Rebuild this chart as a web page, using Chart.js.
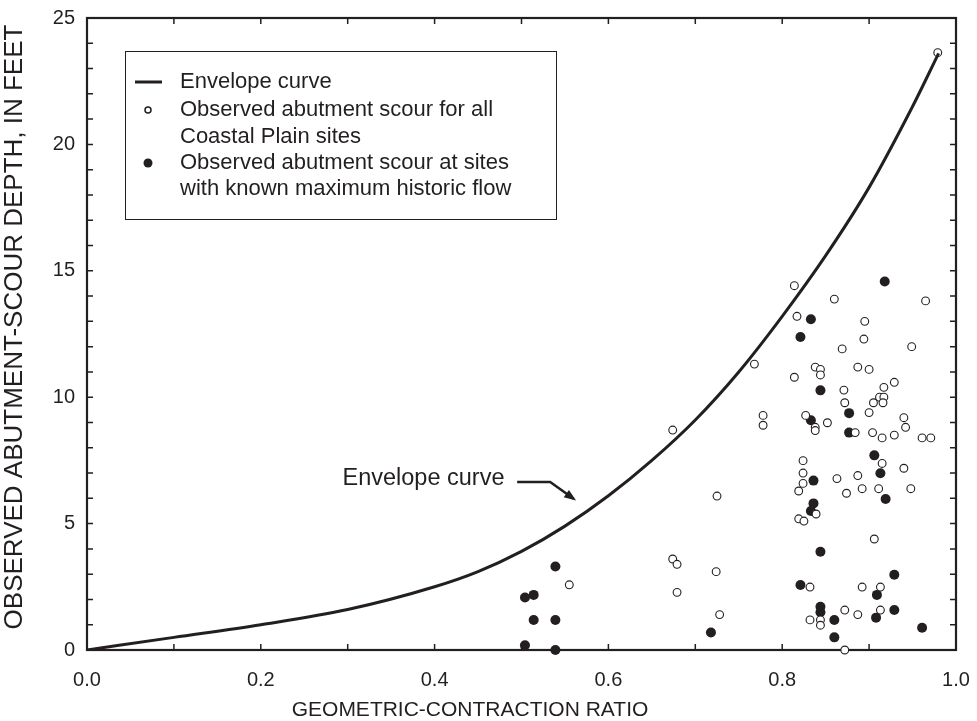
<!DOCTYPE html>
<html>
<head>
<meta charset="utf-8">
<script src="https://cdn.jsdelivr.net/npm/chart.js@4/dist/chart.umd.min.js"></script>
<style>
  html, body { margin: 0; padding: 0; background: #fff; }
  #wrap { width: 977px; height: 721px; position: relative; }
</style>
</head>
<body>
<div id="wrap"><canvas id="grafico" width="977" height="721"></canvas></div>
<script>
// envelope curve
const curvaX = [0, 0.1, 0.2, 0.3, 0.4, 0.45, 0.5, 0.55, 0.6, 0.65, 0.7, 0.75, 0.8, 0.85, 0.9, 0.95, 0.98];
const curvaY = [0, 0.5, 1.0, 1.6, 2.5, 3.1, 3.9, 4.9, 6.1, 7.5, 9.1, 11.0, 13.2, 15.6, 18.3, 21.5, 23.6];

// open circles - all Coastal Plain sites
const todosX = [0.555, 0.674, 0.679, 0.679, 0.724, 0.728, 0.674, 0.725, 0.768, 0.778, 0.778,
  0.814, 0.860, 0.965, 0.817, 0.895, 0.894, 0.869, 0.949, 0.838, 0.844, 0.844, 0.887, 0.900,
  0.814, 0.929, 0.917, 0.871, 0.912, 0.917, 0.872, 0.905, 0.916, 0.900, 0.827, 0.838, 0.838,
  0.852, 0.940, 0.942, 0.884, 0.904, 0.915, 0.929, 0.961, 0.971,
  0.824, 0.915, 0.940, 0.824, 0.863, 0.887, 0.824, 0.819, 0.874, 0.892, 0.911, 0.948, 0.839,
  0.819, 0.825, 0.906, 0.832, 0.892, 0.913, 0.872, 0.887, 0.913, 0.832, 0.844, 0.844, 0.872,
  0.979];
const todosY = [2.58, 3.60, 3.39, 2.28, 3.10, 1.40, 8.70, 6.09, 11.31, 9.28, 8.89,
  14.41, 13.88, 13.81, 13.20, 13.0, 12.30, 11.91, 12.0, 11.19, 11.10, 10.88, 11.19, 11.10,
  10.79, 10.59, 10.39, 10.28, 10.0, 10.0, 9.78, 9.78, 9.78, 9.39, 9.28, 8.81, 8.68,
  8.99, 9.19, 8.81, 8.60, 8.60, 8.39, 8.50, 8.39, 8.39,
  7.49, 7.38, 7.19, 7.00, 6.78, 6.90, 6.59, 6.29, 6.20, 6.38, 6.38, 6.38, 5.38,
  5.19, 5.10, 4.39, 2.49, 2.49, 2.49, 1.58, 1.40, 1.58, 1.19, 1.19, 0.98, 0.0,
  23.63];

// filled circles - sites with known maximum historic flow
const historicoX = [0.539, 0.504, 0.514, 0.514, 0.539, 0.504, 0.539, 0.718,
  0.918, 0.833, 0.821, 0.844, 0.877, 0.833, 0.877,
  0.906, 0.913, 0.836, 0.919, 0.836, 0.833, 0.844, 0.929, 0.821, 0.909, 0.844, 0.844,
  0.929, 0.860, 0.908, 0.961, 0.860];
const historicoY = [3.30, 2.08, 2.18, 1.19, 1.19, 0.19, 0.0, 0.69,
  14.58, 13.08, 12.38, 10.27, 9.37, 9.09, 8.60,
  7.70, 6.99, 6.70, 5.97, 5.80, 5.50, 3.89, 2.98, 2.57, 2.18, 1.71, 1.49,
  1.58, 1.19, 1.28, 0.88, 0.50];

const tinta = "#231f20";
const fonte = "'Liberation Sans', Arial, Helvetica, sans-serif";

function juntaPontos(xs, ys) {
  return xs.map((x, i) => ({ x: x, y: ys[i] }));
}

// frame + inward ticks on all four sides
const molduraPlugin = {
  id: "moldura",
  beforeDatasetsDraw(chart) {
    const ctx = chart.ctx;
    const a = chart.chartArea;
    const xs = chart.scales.x;
    const ys = chart.scales.y;
    ctx.save();
    ctx.strokeStyle = tinta;
    ctx.lineWidth = 1.5;
    ctx.beginPath();
    xs.ticks.forEach((t) => {
      const px = xs.getPixelForValue(t.value);
      ctx.moveTo(px, a.bottom);
      ctx.lineTo(px, a.bottom - 6);
      ctx.moveTo(px, a.top);
      ctx.lineTo(px, a.top + 6);
    });
    ys.ticks.forEach((t) => {
      const py = ys.getPixelForValue(t.value);
      ctx.moveTo(a.left, py);
      ctx.lineTo(a.left + 6, py);
      ctx.moveTo(a.right, py);
      ctx.lineTo(a.right - 6, py);
    });
    ctx.stroke();
    ctx.lineWidth = 2.2;
    ctx.strokeRect(a.left, a.top, a.right - a.left, a.bottom - a.top);
    ctx.restore();
  },
  afterDraw(chart) {
    const ctx = chart.ctx;
    const a = chart.chartArea;
    const xs = chart.scales.x;
    const ys = chart.scales.y;
    ctx.save();
    ctx.fillStyle = tinta;
    ctx.strokeStyle = tinta;

    // axis titles
    ctx.font = "21px " + fonte;
    ctx.textAlign = "center";
    ctx.textBaseline = "middle";
    ctx.fillText("GEOMETRIC-CONTRACTION RATIO", a.left + 383, a.bottom + 60);
    ctx.save();
    ctx.translate(15, a.top + 309);
    ctx.rotate(-Math.PI / 2);
    ctx.font = "26px " + fonte;
    ctx.fillText("OBSERVED ABUTMENT-SCOUR DEPTH, IN FEET", 0, 0);
    ctx.restore();

    // legend box
    const lx = a.left + 38, ly = a.top + 33, lw = 431, lh = 168;
    ctx.lineWidth = 1;
    ctx.strokeRect(lx + 0.5, ly + 0.5, lw, lh);
    ctx.font = "22px " + fonte;
    ctx.textAlign = "left";
    const tx = lx + 55;
    const dsCurva = chart.data.datasets[0];
    const dsHist = chart.data.datasets[2];
    ctx.lineWidth = dsCurva.borderWidth;
    ctx.beginPath();
    ctx.moveTo(lx + 10, ly + 31);
    ctx.lineTo(lx + 37, ly + 31);
    ctx.stroke();
    ctx.fillText("Envelope curve", tx, ly + 31);

    ctx.lineWidth = 1.5;
    ctx.beginPath();
    ctx.arc(lx + 23, ly + 59, 3, 0, Math.PI * 2);
    ctx.fillStyle = "#fff";
    ctx.fill();
    ctx.stroke();
    ctx.fillStyle = tinta;
    ctx.fillText("Observed abutment scour for all", tx, ly + 59);
    ctx.fillText("Coastal Plain sites", tx, ly + 86);

    ctx.beginPath();
    ctx.arc(lx + 23, ly + 112, dsHist.pointRadius - 0.5, 0, Math.PI * 2);
    ctx.fill();
    ctx.fillText("Observed abutment scour at sites", tx, ly + 112);
    ctx.fillText("with known maximum historic flow", tx, ly + 138);

    // "Envelope curve" callout with arrow
    ctx.font = "23.5px " + fonte;
    ctx.textAlign = "left";
    ctx.fillText("Envelope curve", xs.getPixelForValue(0.294), ys.getPixelForValue(6.8));
    const p1x = xs.getPixelForValue(0.495), p1y = ys.getPixelForValue(6.65);
    const p2x = xs.getPixelForValue(0.533), p2y = ys.getPixelForValue(6.65);
    const p3x = xs.getPixelForValue(0.560), p3y = ys.getPixelForValue(5.98);
    ctx.lineWidth = 2.5;
    ctx.beginPath();
    ctx.moveTo(p1x, p1y);
    ctx.lineTo(p2x, p2y);
    ctx.lineTo(p3x, p3y);
    ctx.stroke();
    const ang = Math.atan2(p3y - p2y, p3x - p2x);
    ctx.beginPath();
    ctx.moveTo(p3x + 3 * Math.cos(ang), p3y + 3 * Math.sin(ang));
    ctx.lineTo(p3x - 9 * Math.cos(ang) + 4.5 * Math.sin(ang), p3y - 9 * Math.sin(ang) - 4.5 * Math.cos(ang));
    ctx.lineTo(p3x - 9 * Math.cos(ang) - 4.5 * Math.sin(ang), p3y - 9 * Math.sin(ang) + 4.5 * Math.cos(ang));
    ctx.closePath();
    ctx.fill();
    ctx.restore();
  },
};

const ctx = document.getElementById("grafico");
window.myChart = new Chart(ctx, {
  type: "scatter",
  data: {
    datasets: [
      {
        type: "line",
        label: "Envelope curve",
        data: juntaPontos(curvaX, curvaY),
        borderColor: tinta,
        borderWidth: 3,
        pointRadius: 0,
        fill: false,
        cubicInterpolationMode: "monotone",
      },
      {
        label: "Observed abutment scour for all Coastal Plain sites",
        data: juntaPontos(todosX, todosY),
        pointStyle: "circle",
        pointRadius: 3.9,
        pointBorderWidth: 1.1,
        borderColor: tinta,
        backgroundColor: "#fff",
        clip: false,
      },
      {
        label: "Observed abutment scour at sites with known maximum historic flow",
        data: juntaPontos(historicoX, historicoY),
        pointStyle: "circle",
        pointRadius: 5,
        pointBorderWidth: 0,
        borderColor: tinta,
        backgroundColor: tinta,
        clip: false,
      },
    ],
  },
  options: {
    responsive: false,
    animation: false,
    layout: { padding: { top: 18, right: 21, left: 0, bottom: 0 } },
    plugins: {
      legend: { display: false },
      tooltip: { enabled: false },
    },
    scales: {
      x: {
        type: "linear",
        min: 0,
        max: 1,
        grid: { display: false, drawTicks: false },
        border: { display: false },
        afterFit(s) {
          s.height = 71;
          s.paddingLeft = 0;
          s.paddingRight = 0;
        },
        ticks: {
          stepSize: 0.1,
          autoSkip: false,
          maxRotation: 0,
          padding: 18,
          color: tinta,
          font: { size: 20, family: fonte },
          callback: (v) => (Math.round(v * 10) % 2 === 0 ? Number(v).toFixed(1) : ""),
        },
        title: { display: false },
      },
      y: {
        type: "linear",
        min: 0,
        max: 25,
        grid: { display: false, drawTicks: false },
        border: { display: false },
        afterFit(s) {
          s.width = 87;
          s.paddingTop = 0;
          s.paddingBottom = 0;
        },
        ticks: {
          stepSize: 1,
          autoSkip: false,
          padding: 12,
          color: tinta,
          font: { size: 20, family: fonte },
          callback: (v) => (v % 5 === 0 ? v : ""),
        },
        title: { display: false },
      },
    },
  },
  plugins: [molduraPlugin],
});
</script>
</body>
</html>
